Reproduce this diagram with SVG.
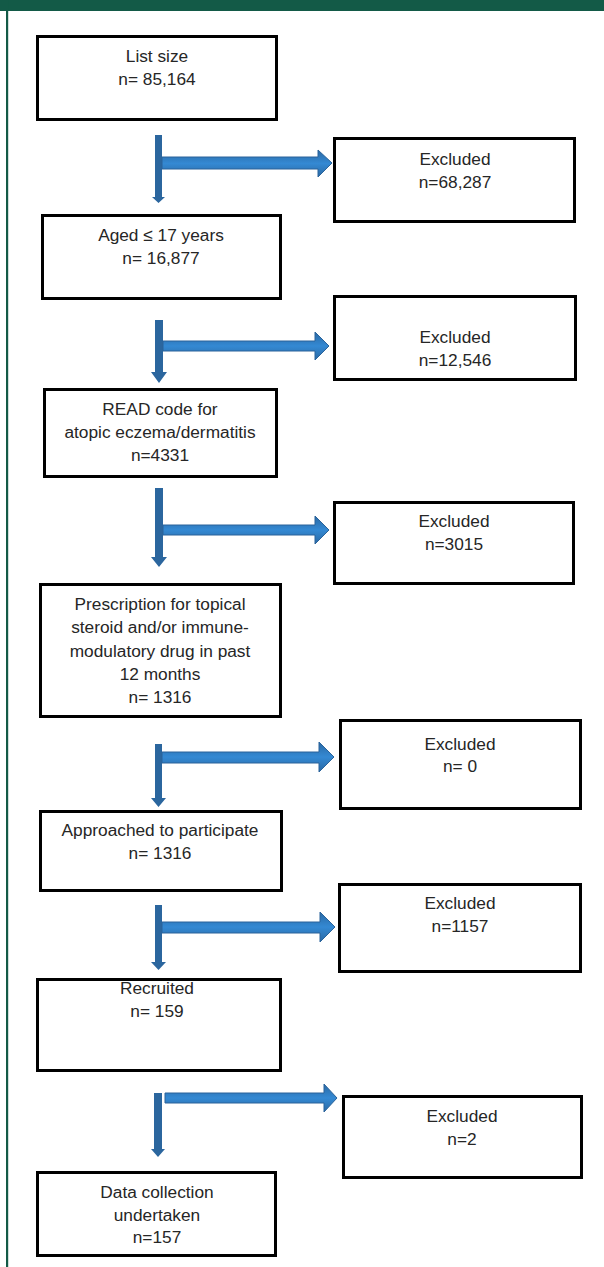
<svg xmlns="http://www.w3.org/2000/svg" width="604" height="1267" viewBox="0 0 604 1267">
<defs>
<linearGradient id="hg" x1="0" y1="0" x2="0" y2="1">
<stop offset="0" stop-color="#2a69a4"/>
<stop offset="0.5" stop-color="#3489d3"/>
<stop offset="1" stop-color="#2a69a4"/>
</linearGradient>
</defs>
<style>
.box{fill:#fff;stroke:#000;stroke-width:3}
.t{font-family:"Liberation Sans",Arial,sans-serif;font-size:17.3px;fill:#262626;text-anchor:middle}
.v{fill:#2b669e}
.h{fill:url(#hg);stroke:#2a639a;stroke-width:1}
</style>
<rect x="0" y="0" width="604" height="11" fill="#135a47"/>
<rect x="6" y="0" width="2.2" height="1267" fill="#135a47"/>

<g id="connectors">
<polygon class="v" points="155,135 162,135 162,197 165,197 158.5,203 152,197 155,197"/>
<polygon class="h" points="162,157 318,157 318,150 332,163 318,177 318,169 162,169"/>

<polygon class="v" points="155,320 163,320 163,372 167,372 159,383 151,372 155,372"/>
<polygon class="h" points="163,341 315,341 315,332 329,346 315,360 315,351 163,351"/>

<polygon class="v" points="155,488 163,488 163,557 167,557 159,567 151,557 155,557"/>
<polygon class="h" points="163,525 315,525 315,516 329,530 315,544 315,535 163,535"/>

<polygon class="v" points="155,744 162,744 162,798 166,798 158.5,807 151,798 155,798"/>
<polygon class="h" points="162,752 319,752 319,742 334,757 319,772 319,763 162,763"/>

<polygon class="v" points="155,905 162,905 162,962 166,962 158.5,970 151,962 155,962"/>
<polygon class="h" points="162,922 320,922 320,912 335,927 320,942 320,933 162,933"/>

<polygon class="v" points="154,1093 162,1093 162,1149 165,1149 158,1157 151,1149 154,1149"/>
<polygon class="h" points="165,1093 324,1093 324,1084 337,1098 324,1112 324,1103 165,1103"/>
</g>

<g id="n1"><rect class="box" x="37.5" y="36.5" width="239" height="83"/>
<text class="t" x="157" y="62">List size</text><text class="t" x="157" y="85">n= 85,164</text></g>

<g id="e1"><rect class="box" x="334.5" y="138.5" width="240" height="83"/>
<text class="t" x="455" y="165">Excluded</text><text class="t" x="455" y="188">n=68,287</text></g>

<g id="n2"><rect class="box" x="42.5" y="215.5" width="238" height="83"/>
<text class="t" x="161" y="241">Aged ≤ 17 years</text><text class="t" x="161" y="264">n= 16,877</text></g>

<g id="e2"><rect class="box" x="334.5" y="296.5" width="241" height="83"/>
<text class="t" x="455" y="343">Excluded</text><text class="t" x="455" y="366">n=12,546</text></g>

<g id="n3"><rect class="box" x="44.5" y="389.5" width="232" height="87"/>
<text class="t" x="160" y="415">READ code for</text><text class="t" x="160" y="438">atopic eczema/dermatitis</text><text class="t" x="160" y="461">n=4331</text></g>

<g id="e3"><rect class="box" x="334.5" y="502.5" width="239" height="81"/>
<text class="t" x="454" y="527">Excluded</text><text class="t" x="454" y="550">n=3015</text></g>

<g id="n4"><rect class="box" x="40.5" y="584.5" width="240" height="132"/>
<text class="t" x="160" y="610">Prescription for topical</text><text class="t" x="160" y="633">steroid and/or immune-</text><text class="t" x="160" y="657">modulatory drug in past</text><text class="t" x="160" y="680">12 months</text><text class="t" x="160" y="703">n= 1316</text></g>

<g id="e4"><rect class="box" x="340.5" y="720.5" width="240" height="88"/>
<text class="t" x="460" y="750">Excluded</text><text class="t" x="460" y="772">n= 0</text></g>

<g id="n5"><rect class="box" x="40.5" y="811.5" width="241" height="79"/>
<text class="t" x="160" y="836">Approached to participate</text><text class="t" x="160" y="859">n= 1316</text></g>

<g id="e5"><rect class="box" x="339.5" y="884.5" width="241" height="87"/>
<text class="t" x="460" y="909">Excluded</text><text class="t" x="460" y="932">n=1157</text></g>

<g id="n6"><rect class="box" x="37.5" y="979.5" width="243" height="91"/>
<text class="t" x="157" y="994">Recruited</text><text class="t" x="157" y="1017">n= 159</text></g>

<g id="e6"><rect class="box" x="343.5" y="1096.5" width="238" height="81"/>
<text class="t" x="462" y="1122">Excluded</text><text class="t" x="462" y="1145">n=2</text></g>

<g id="n7"><rect class="box" x="37.5" y="1172.5" width="238" height="83"/>
<text class="t" x="157" y="1198">Data collection</text><text class="t" x="157" y="1221">undertaken</text><text class="t" x="157" y="1243">n=157</text></g>
</svg>
